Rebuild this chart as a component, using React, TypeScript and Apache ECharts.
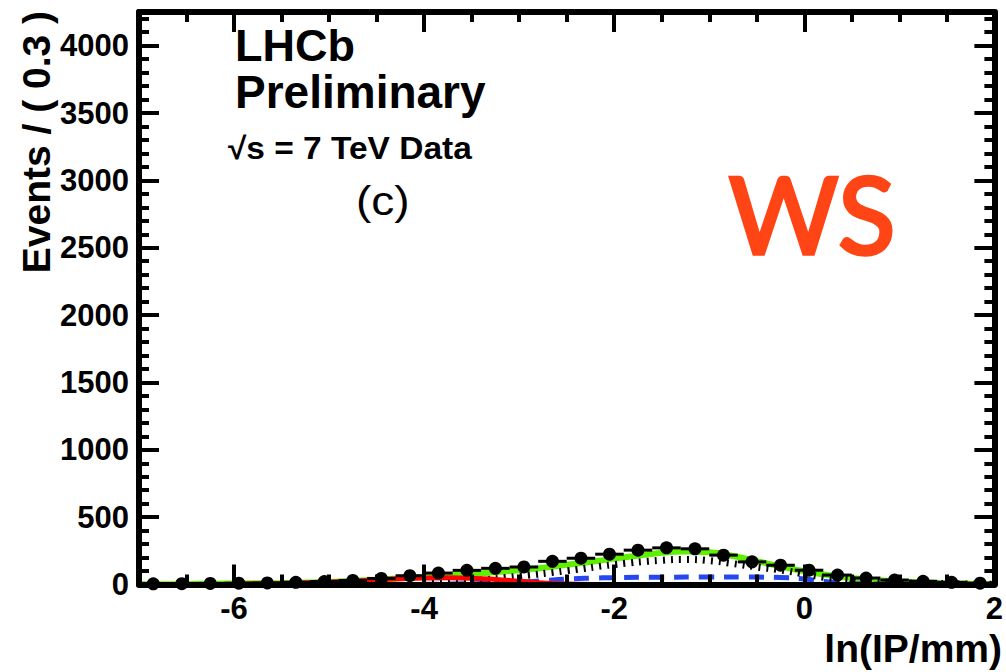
import React, { useEffect, useRef } from 'react';
import * as echarts from 'echarts';

// ---- data ----
const BIN_WIDTH = 0.3;
const binCenters = [
  -6.85, -6.55, -6.25, -5.95, -5.65, -5.35, -5.05, -4.75, -4.45, -4.15,
  -3.85, -3.55, -3.25, -2.95, -2.65, -2.35, -2.05, -1.75, -1.45, -1.15,
  -0.85, -0.55, -0.25, 0.05, 0.35, 0.65, 0.95, 1.25, 1.55, 1.85,
];
const counts = [
  5, 6, 8, 10, 12, 16, 22, 30, 45, 65,
  85, 105, 120, 130, 172, 195, 225, 255, 272, 265,
  218, 168, 143, 106, 70, 48, 33, 24, 16, 10,
];
const countErrors = [
  2, 2, 3, 3, 3, 4, 5, 5, 7, 8,
  9, 10, 11, 11, 13, 14, 15, 16, 16, 16,
  15, 13, 12, 10, 8, 7, 6, 5, 4, 3,
];

const totalFit: [number, number][] = [
  [-7, 2], [-6.5, 4], [-6, 7], [-5.5, 11], [-5, 19], [-4.5, 36], [-4, 56],
  [-3.5, 78], [-3, 106], [-2.5, 146], [-2, 192], [-1.5, 236], [-1.25, 245],
  [-1, 240], [-0.75, 212], [-0.5, 174], [-0.25, 134], [0, 98], [0.25, 70],
  [0.5, 48], [0.75, 33], [1, 22], [1.25, 14], [1.5, 9], [1.75, 6], [2, 4],
];
const dottedComponent: [number, number][] = [
  [-4, 8], [-3.5, 28], [-3, 62], [-2.5, 102], [-2, 148], [-1.5, 180],
  [-1.25, 186], [-1, 177], [-0.75, 155], [-0.5, 130], [-0.25, 108], [0, 78],
  [0.25, 50], [0.5, 34], [0.75, 22], [1, 14], [1.5, 6], [2, 2],
];
const blueComponent: [number, number][] = [
  [-4, 2], [-3.5, 6], [-3, 16], [-2.75, 28], [-2.5, 40], [-2.25, 47],
  [-2, 51], [-1.5, 54], [-1, 56], [-0.5, 55], [-0.25, 52], [0, 40],
  [0.25, 20], [0.5, 8], [1, 3], [1.5, 1], [2, 0],
];
const redComponent: [number, number][] = [
  [-6, 2], [-5.5, 8], [-5, 18], [-4.75, 26], [-4.5, 35], [-4.25, 43],
  [-4, 48], [-3.75, 50], [-3.5, 47], [-3.25, 38], [-3, 25], [-2.75, 12],
  [-2.5, 4], [-2, 0],
];

const X_MIN = -7;
const X_MAX = 2;
const Y_MIN = 0;
const Y_MAX = 4250;
const Y_INTERVAL = 500;

const FONT = '"Liberation Sans", Arial, Helvetica, sans-serif';

export default function App() {
  const ref = useRef<HTMLDivElement>(null);

  useEffect(() => {
    if (!ref.current) return;
    const chart = echarts.init(ref.current, undefined, { renderer: 'svg' });

    const axisLineStyle = { color: '#000', width: 6 };
    const tickStyle = { color: '#000', width: 4 };

    const xCommon = {
      type: 'value',
      min: X_MIN,
      max: X_MAX,
      splitNumber: 5,
      z: 10,
      splitLine: { show: false },
      minorSplitLine: { show: false },
      axisLine: { show: true, onZero: false, lineStyle: axisLineStyle },
      axisTick: { show: true, inside: true, length: 20, lineStyle: tickStyle },
      minorTick: { show: true, splitNumber: 4, length: 10, lineStyle: tickStyle },
    };
    const yCommon = {
      type: 'value',
      min: Y_MIN,
      max: Y_MAX,
      interval: Y_INTERVAL,
      z: 10,
      splitLine: { show: false },
      minorSplitLine: { show: false },
      axisLine: { show: true, onZero: false, lineStyle: axisLineStyle },
      axisTick: { show: true, inside: true, length: 20, lineStyle: tickStyle },
      minorTick: { show: true, splitNumber: 5, length: 10, lineStyle: tickStyle },
    };

    const option: any = {
      animation: false,
      backgroundColor: '#fff',
      grid: { left: 139, right: 5, top: 12, bottom: 87.5 },
      xAxis: [
        {
          ...xCommon,
          position: 'bottom',
          axisLabel: {
            show: true,
            margin: 8,
            color: '#000',
            fontSize: 31,
            fontWeight: 'bold',
            fontFamily: FONT,
            formatter: (v: number) => (Math.abs(v % 2) < 1e-9 ? String(v) : ''),
          },
        },
        { ...xCommon, position: 'top', axisLabel: { show: false } },
      ],
      yAxis: [
        {
          ...yCommon,
          position: 'left',
          axisLabel: {
            show: true,
            margin: 10,
            color: '#000',
            fontSize: 31,
            fontWeight: 'bold',
            fontFamily: FONT,
            formatter: (v: number) => (v % Y_INTERVAL === 0 ? String(v) : ''),
          },
        },
        { ...yCommon, position: 'right', axisLabel: { show: false } },
      ],
      series: [
        {
          type: 'line',
          name: 'total',
          data: totalFit,
          smooth: true,
          showSymbol: false,
          lineStyle: { color: '#5ef000', width: 6 },
          z: 2,
        },
        {
          type: 'line',
          name: 'blue',
          data: blueComponent,
          smooth: true,
          showSymbol: false,
          lineStyle: { color: '#2447f0', width: 5, type: [15, 10] },
          z: 3,
        },
        {
          type: 'line',
          name: 'dotted',
          data: dottedComponent,
          smooth: true,
          showSymbol: false,
          lineStyle: { color: '#000', width: 7, type: [2, 6] },
          z: 3,
        },
        {
          type: 'line',
          name: 'red',
          data: redComponent,
          smooth: true,
          showSymbol: false,
          lineStyle: { color: '#ff0000', width: 5 },
          z: 4,
        },
        {
          type: 'custom',
          name: 'errors',
          data: binCenters.map((x, i) => [x, counts[i], countErrors[i]]),
          renderItem: (_params: any, api: any) => {
            const x = api.value(0);
            const y = api.value(1);
            const e = api.value(2);
            const pl = api.coord([x - BIN_WIDTH / 2, y]);
            const pr = api.coord([x + BIN_WIDTH / 2, y]);
            const pt = api.coord([x, y + e]);
            const pb = api.coord([x, Math.max(0, y - e)]);
            return {
              type: 'group',
              children: [
                { type: 'line', shape: { x1: pl[0], y1: pl[1], x2: pr[0], y2: pr[1] }, style: { stroke: '#000', lineWidth: 3 } },
                { type: 'line', shape: { x1: pt[0], y1: pt[1], x2: pb[0], y2: pb[1] }, style: { stroke: '#000', lineWidth: 3 } },
              ],
            };
          },
          z: 5,
        },
        {
          type: 'scatter',
          name: 'data',
          data: binCenters.map((x, i) => [x, counts[i]]),
          symbol: 'circle',
          symbolSize: 13,
          itemStyle: { color: '#000', opacity: 1 },
          z: 5,
        },
      ],
      graphic: [
        { type: 'text', left: 235, top: 23, style: { text: 'LHCb', font: `bold 45px ${FONT}`, fill: '#000' } },
        { type: 'text', left: 235, top: 69, style: { text: 'Preliminary', font: `bold 46px ${FONT}`, fill: '#000' } },
        { type: 'text', x: 228, y: 133, scaleX: 1.08, style: { text: '√s = 7 TeV Data', font: `bold 31px ${FONT}`, fill: '#000' } },
        { type: 'text', x: 356, y: 181, scaleX: 1.15, style: { text: '(c)', font: `40px ${FONT}`, fill: '#000' } },
        {
          type: 'text',
          left: 727,
          top: 158,
          style: {
            text: 'WS',
            font: `106px Lato, "Open Sans", sans-serif`,
            fill: '#ff4515',
            stroke: '#ff4515',
            lineWidth: 3.5,
          },
        },
        {
          type: 'text',
          x: 36,
          y: 11,
          rotation: Math.PI / 2,
          style: { text: 'Events / ( 0.3 )', font: `bold 39px ${FONT}`, fill: '#000', align: 'right', verticalAlign: 'middle' },
        },
        {
          type: 'text',
          x: 1002,
          y: 648,
          style: { text: 'ln(IP/mm)', font: `bold 39px ${FONT}`, fill: '#000', align: 'right', verticalAlign: 'middle' },
        },
      ],
    };

    chart.setOption(option);
    return () => chart.dispose();
  }, []);

  return <div ref={ref} style={{ width: 1006, height: 672, position: 'absolute', left: 0, top: 0 }} />;
}
